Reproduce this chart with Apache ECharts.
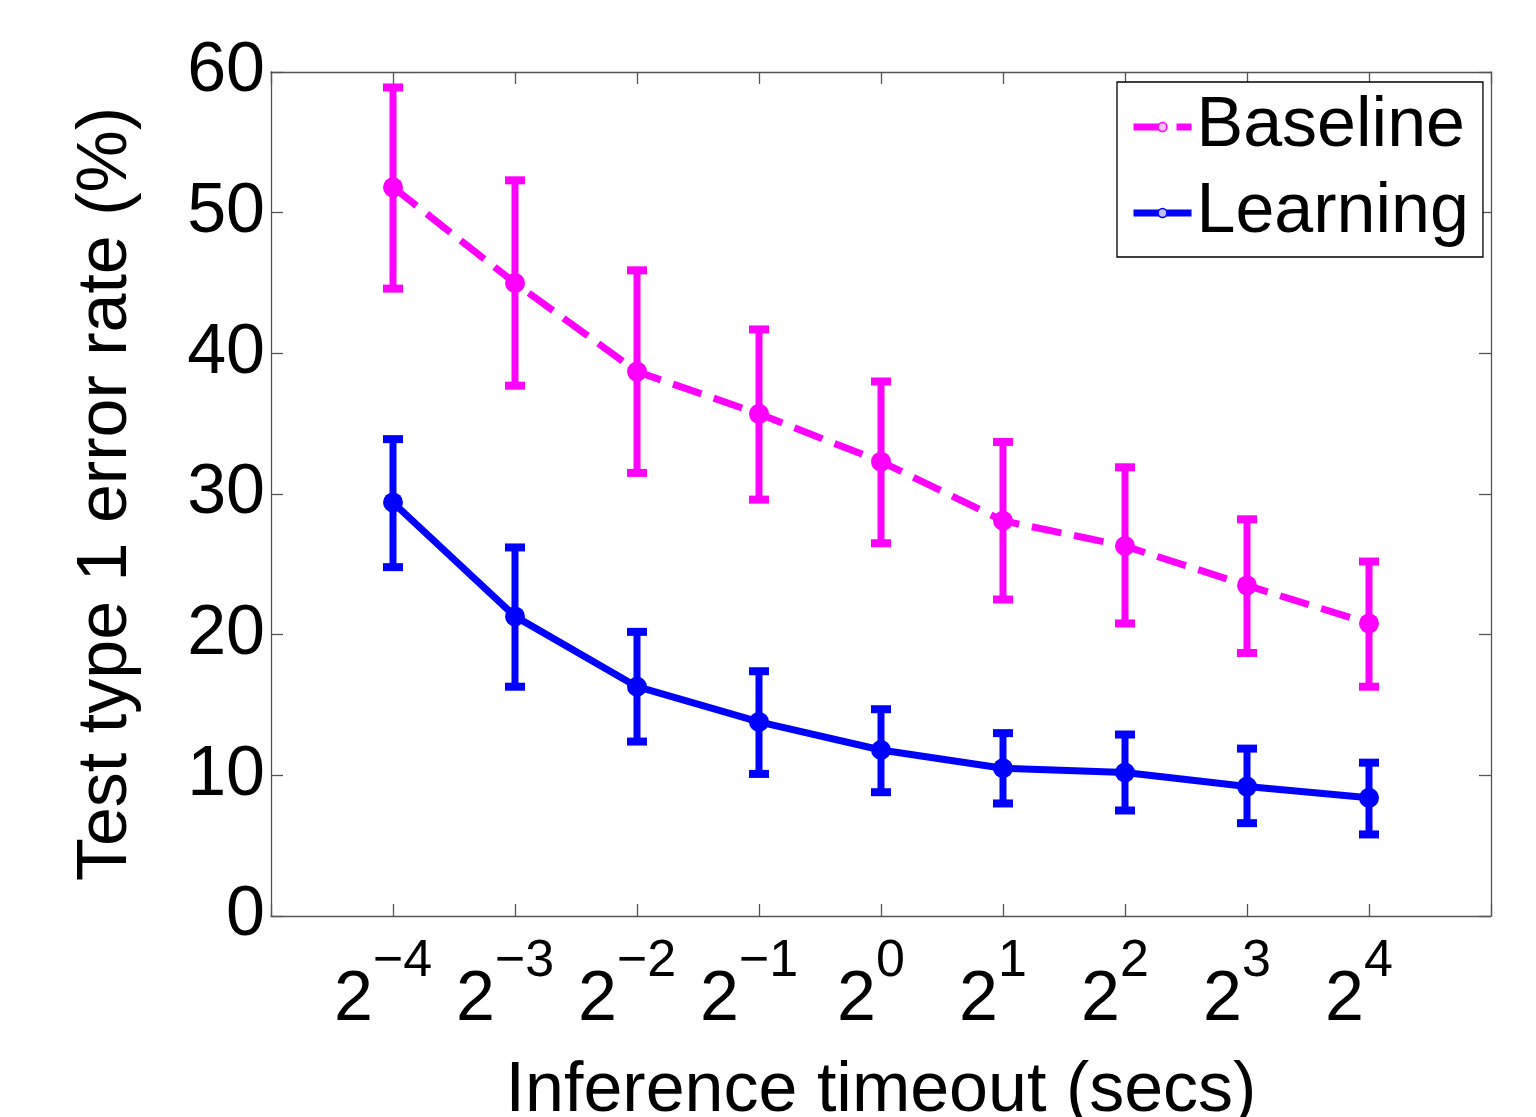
<!DOCTYPE html>
<html><head><meta charset="utf-8">
<script src="https://cdn.jsdelivr.net/npm/echarts@6/dist/echarts.min.js"></script>
<style>html,body{margin:0;padding:0;background:#fff}#c{width:1536px;height:1117px}</style>
</head><body><div id="c"></div>
<script>
// x positions are exponents of 2 (timeout = 2^exponent seconds)
const exponents = [-4, -3, -2, -1, 0, 1, 2, 3, 4];
const xTickBase = '2';
const xTickExp = ['−4', '−3', '−2', '−1', '0', '1', '2', '3', '4'];
const seriesNames = ['Baseline', 'Learning'];

const baselineMean = [51.8, 45.0, 38.7, 35.7, 32.3, 28.1, 26.3, 23.5, 20.8];
const baselineLow  = [44.6, 37.7, 31.5, 29.6, 26.5, 22.5, 20.8, 18.7, 16.3];
const baselineHigh = [58.9, 52.3, 45.9, 41.7, 38.0, 33.7, 31.9, 28.2, 25.2];

const learningMean = [29.4, 21.3, 16.3, 13.8, 11.8, 10.5, 10.2, 9.2, 8.4];
const learningLow  = [24.8, 16.3, 12.4, 10.1, 8.8, 8.0, 7.5, 6.6, 5.8];
const learningHigh = [33.9, 26.2, 20.2, 17.4, 14.7, 13.0, 12.9, 11.9, 10.9];

const FONT = "'Liberation Sans', Arial, Helvetica, sans-serif";
const AXIS_COLOR = '#555';
const MAGENTA = '#ff00ff';
const BLUE = '#0000ff';
const BASELINE_DASH = [30, 13];

function errorBars(name, color, low, high) {
  return {
    type: 'custom',
    name: name,
    xAxisIndex: 0, yAxisIndex: 0,
    data: exponents.map((e, i) => [e, low[i], high[i]]),
    encode: { x: 0, y: [1, 2] },
    renderItem: function (params, api) {
      const x = api.value(0);
      const pLo = api.coord([x, api.value(1)]);
      const pHi = api.coord([x, api.value(2)]);
      const half = 10;
      const st = { stroke: color, lineWidth: 7 };
      const cap = { stroke: color, lineWidth: 8 };
      return {
        type: 'group',
        children: [
          { type: 'line', shape: { x1: pLo[0], y1: pLo[1], x2: pHi[0], y2: pHi[1] }, style: st },
          { type: 'line', shape: { x1: pLo[0] - half, y1: pLo[1], x2: pLo[0] + half, y2: pLo[1] }, style: cap },
          { type: 'line', shape: { x1: pHi[0] - half, y1: pHi[1], x2: pHi[0] + half, y2: pHi[1] }, style: cap }
        ]
      };
    },
    z: 3
  };
}

function meanLine(name, color, mean, dash) {
  return {
    type: 'line',
    name: name,
    xAxisIndex: 0, yAxisIndex: 0,
    data: exponents.map((e, i) => [e, mean[i]]),
    symbol: 'circle',
    symbolSize: 20,
    itemStyle: { color: color },
    lineStyle: { color: color, width: 7, type: dash },
    z: 4
  };
}

const axisCommon = {
  axisLine: { show: true, onZero: false, lineStyle: { color: AXIS_COLOR, width: 1.3 } },
  axisTick: { show: true, inside: true, length: 12, lineStyle: { color: AXIS_COLOR, width: 1.3 } },
  splitLine: { show: false }
};

const chart = echarts.init(document.getElementById('c'), null, { renderer: 'canvas' });
chart.setOption({
  animation: false,
  backgroundColor: '#fff',
  grid: { left: 271, right: 45, top: 72, bottom: 201, containLabel: false, outerBoundsMode: 'none' },
  xAxis: [
    Object.assign({
      type: 'value', min: -5, max: 5, interval: 1, position: 'bottom',
      name: 'Inference timeout (secs)',
      nameLocation: 'middle', nameGap: 141,
      nameTextStyle: { fontSize: 70, fontFamily: FONT, color: '#000' },
      axisLabel: {
        margin: 20,
        formatter: function (v) {
          const i = exponents.indexOf(v);
          if (i < 0) return '';
          return '{b|' + xTickBase + '}{s|' + xTickExp[i] + '}';
        },
        rich: {
          b: { fontSize: 70, lineHeight: 130, verticalAlign: 'middle', fontFamily: FONT, color: '#000' },
          s: { fontSize: 52, lineHeight: 80, verticalAlign: 'top', fontFamily: FONT, color: '#000', padding: [0, 20, 0, 0] }
        }
      }
    }, axisCommon),
    Object.assign({
      type: 'value', min: -5, max: 5, interval: 1, position: 'top',
      axisLabel: { show: false }
    }, axisCommon)
  ],
  yAxis: [
    Object.assign({
      type: 'value', min: 0, max: 60, interval: 10, position: 'left',
      name: 'Test type 1 error rate (%)',
      nameLocation: 'middle', nameGap: 129,
      nameTextStyle: { fontSize: 70, fontFamily: FONT, color: '#000' },
      axisLabel: { fontSize: 70, fontFamily: FONT, color: '#000', margin: 6 }
    }, axisCommon),
    Object.assign({
      type: 'value', min: 0, max: 60, interval: 10, position: 'right',
      axisLabel: { show: false }
    }, axisCommon)
  ],
  legend: {
    orient: 'vertical',
    left: 1117, top: 82,
    itemWidth: 58, itemHeight: 11, itemGap: 0,
    padding: [2, 14, 1, 13],
    backgroundColor: '#fff',
    borderColor: '#000', borderWidth: 1.3, borderRadius: 0,
    selectedMode: false,
    textStyle: { fontSize: 70, lineHeight: 70, padding: [16, 0, 0, 0], fontFamily: FONT, color: '#000' },
    data: [
      { name: seriesNames[0],
        itemStyle: { color: '#ffc0ff', borderColor: MAGENTA, borderWidth: 1.5 },
        lineStyle: { color: MAGENTA, width: 7, type: BASELINE_DASH } },
      { name: seriesNames[1],
        itemStyle: { color: '#c0c0ff', borderColor: BLUE, borderWidth: 1.5 },
        lineStyle: { color: BLUE, width: 7, type: 'solid' } }
    ]
  },
  series: [
    meanLine(seriesNames[0], MAGENTA, baselineMean, BASELINE_DASH),
    meanLine(seriesNames[1], BLUE, learningMean, 'solid'),
    errorBars('Baseline error', MAGENTA, baselineLow, baselineHigh),
    errorBars('Learning error', BLUE, learningLow, learningHigh)
  ]
});
</script>
</body></html>
